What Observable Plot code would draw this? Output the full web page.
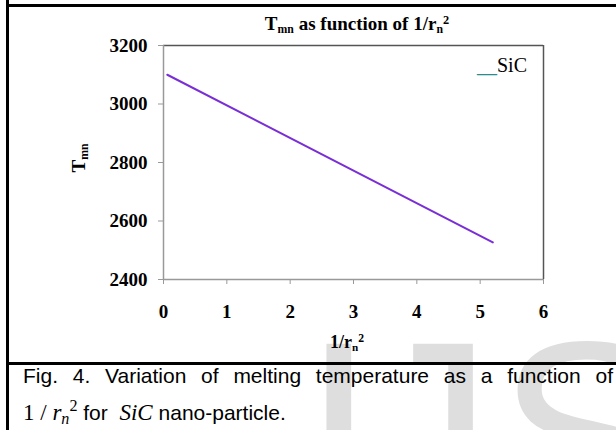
<!DOCTYPE html>
<html>
<head>
<meta charset="utf-8">
<script src="https://cdn.jsdelivr.net/npm/d3@7"></script>
<script src="https://cdn.jsdelivr.net/npm/@observablehq/plot@0.6"></script>
<style>
  html, body { margin: 0; padding: 0; background: #fff; }
  #page { position: relative; width: 616px; height: 430px; overflow: hidden; background: #fff; }
  .wm { position: absolute; font-family: "Liberation Sans", Arial, sans-serif; font-size: 265px; line-height: 1; color: #dedede; z-index: 0; }
  #chart { position: absolute; left: 0; top: 0; z-index: 1; }
  .lbl { position: absolute; z-index: 2; font-family: "Liberation Serif", "Times New Roman", serif; font-weight: bold; color: #000; white-space: nowrap; }
  .lbl sub { font-size: 62%; vertical-align: -3px; }
  .lbl sup { font-size: 65%; vertical-align: 6px; }
  #title { left: 0; width: 714px; top: 13px; text-align: center; font-size: 19px; }
  #xlabel { left: 0; width: 694px; top: 332px; text-align: center; font-size: 18px; }
  #ylabel { left: 80px; top: 158px; font-size: 19px; transform: translate(-50%, -50%) rotate(-90deg); }
  #legend { position: absolute; z-index: 2; left: 477px; top: 54px; font-family: "Liberation Serif", "Times New Roman", serif; font-size: 20px; line-height: 23px; color: #000; }
  #legend .ln { color: #2a8c8c; }
  .vline { position: absolute; left: 6px; top: 0; width: 3px; height: 430px; background: #000; z-index: 3; }
  .hline { position: absolute; left: 6px; right: 0; background: #000; z-index: 3; }
  .cap { position: absolute; z-index: 2; left: 23px; font-family: "Liberation Sans", Arial, sans-serif; font-size: 21px; color: #000; line-height: 26px; white-space: nowrap; }
  #cap1 { top: 363px; width: 590px; text-align: justify; text-align-last: justify; }
  #cap2 { top: 398px; }
  .cap .m { font-family: "Liberation Serif", "Times New Roman", serif; font-size: 23px; line-height: 1; }
  .cap .mi { font-style: italic; }
  .cap sub { font-size: 70%; vertical-align: -4px; line-height: 1; }
  .cap sup { font-size: 70%; vertical-align: 9px; line-height: 1; }
</style>
</head>
<body>
<div id="page">
  <div class="wm" style="left:302px; top:302px;">I</div>
  <div class="wm" style="left:360px; top:302px;">J</div>
  <div class="wm" style="left:497px; top:302px;">S</div>
  <div id="chart"></div>
  <div id="title" class="lbl">T<sub>mn</sub> as function of 1/r<sub>n</sub><sup>2</sup></div>
  <div id="ylabel" class="lbl">T<sub>mn</sub></div>
  <div id="xlabel" class="lbl">1/r<sub>n</sub><sup>2</sup></div>
  <div id="legend"><span class="ln">__</span>SiC</div>
  <div class="vline"></div>
  <div class="hline" style="top:4px; height:3px;"></div>
  <div class="hline" style="top:362px; height:3px;"></div>
  <div id="cap1" class="cap">Fig. 4. Variation of melting temperature as a function of</div>
  <div id="cap2" class="cap"><span class="m">1 / <span class="mi">r</span><sub class="mi">n</sub><sup>2</sup></span> for&nbsp; <span class="m mi">SiC</span> nano-particle.</div>
</div>
<script>
// Data (straight line for SiC)
const invRadiusSq = [0.06, 5.2];
const meltingTemp = [3100, 2527];
const xTicks = [0, 1, 2, 3, 4, 5, 6];
const yTicks = [2400, 2600, 2800, 3000, 3200];
const seriesName = "SiC";

const data = invRadiusSq.map((x, i) => ({x, t: meltingTemp[i], series: seriesName}));

const chart = Plot.plot({
  width: 616,
  height: 362,
  marginLeft: 163,
  marginRight: 73,
  marginTop: 45,
  marginBottom: 83,
  style: { background: "transparent", fontFamily: "'Liberation Serif', 'Times New Roman', serif", fontSize: "19px", fontWeight: "bold", color: "#000" },
  x: { domain: [0, 6], ticks: xTicks },
  y: { domain: [2400, 3200], ticks: yTicks },
  marks: [
    Plot.ruleY([3200], { stroke: "#555", strokeWidth: 1.5 }),
    Plot.ruleX([6], { stroke: "#555", strokeWidth: 1.5 }),
    Plot.ruleX([0], { stroke: "#999", strokeWidth: 1.5 }),
    Plot.ruleY([2400], { stroke: "#999", strokeWidth: 1.5 }),
    Plot.axisY({ ticks: yTicks, tickSize: 5, tickPadding: 11, stroke: "#999", fill: "#000", tickFormat: d => String(d), label: null }),
    Plot.axisX({ ticks: xTicks, tickSize: 5, tickPadding: 20, stroke: "#999", fill: "#000", tickFormat: d => String(d), label: null }),
    Plot.line(data, { x: "x", y: "t", stroke: "#7a2fd6", strokeWidth: 2 })
  ]
});
document.getElementById("chart").appendChild(chart);
</script>
</body>
</html>
